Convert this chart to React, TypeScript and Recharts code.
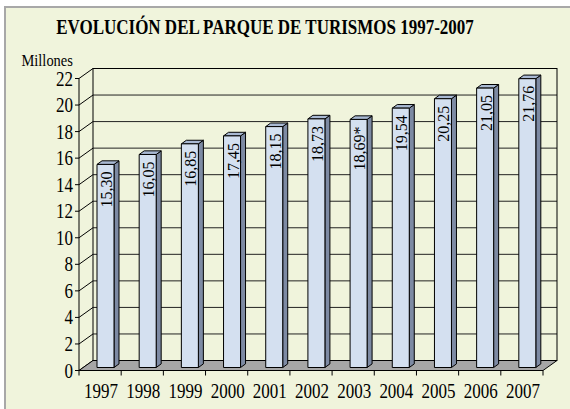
import { BarChart, Bar, XAxis, YAxis, CartesianGrid, ReferenceArea, LabelList } from 'recharts'

const categories = ['1997', '1998', '1999', '2000', '2001', '2002', '2003', '2004', '2005', '2006', '2007']
const values = [15.3, 16.05, 16.85, 17.45, 18.15, 18.73, 18.69, 19.54, 20.25, 21.05, 21.76]
const valueLabels = ['15,30', '16,05', '16,85', '17,45', '18,15', '18,73', '18,69*', '19,54', '20,25', '21,05', '21,76']
const yTicks = [0, 2, 4, 6, 8, 10, 12, 14, 16, 18, 20, 22]

const data = categories.map((year, i) => ({ year, value: values[i], label: valueLabels[i] }))

// 3d look: back wall offset, bar offset from front plane, bar depth
const WALL = { dx: 14, dy: -10 }
const BAR_OFF = { dx: 5, dy: -3 }
const BAR_DEPTH = { dx: 5, dy: -3.6 }

const FONT = '"Liberation Serif", "Times New Roman", serif'
const SQUEEZE = 0.85

function Box(props: any) {
  const { x, y, width, height } = props
  if (height <= 0) return null
  const fx = x + BAR_OFF.dx
  const fy = y + BAR_OFF.dy
  const bx = fy + height
  const r = fx + width
  return (
    <g stroke="#000" strokeWidth={1} strokeLinejoin="round">
      <polygon
        points={`${r},${fy} ${r + BAR_DEPTH.dx},${fy + BAR_DEPTH.dy} ${r + BAR_DEPTH.dx},${bx + BAR_DEPTH.dy} ${r},${bx}`}
        fill="#7d8aa3"
      />
      <polygon
        points={`${fx},${fy} ${fx + BAR_DEPTH.dx},${fy + BAR_DEPTH.dy} ${r + BAR_DEPTH.dx},${fy + BAR_DEPTH.dy} ${r},${fy}`}
        fill="#a9b9d3"
      />
      <rect x={fx} y={fy} width={width} height={height} fill="#d4e0f0" />
    </g>
  )
}

function Walls(props: any) {
  const { x, y, width, height } = props
  const bottom = y + height
  const right = x + width
  const n = categories.length
  const ticks = Array.from({ length: n + 1 }, (_, i) => x + (width * i) / n)
  return (
    <g>
      <polygon
        points={`${x},${bottom} ${x + WALL.dx},${bottom + WALL.dy} ${right + WALL.dx},${bottom + WALL.dy} ${right},${bottom}`}
        fill="#a6a6a6"
        stroke="#000"
      />
      <rect x={x + WALL.dx} y={y + WALL.dy} width={width} height={height} fill="none" stroke="#000" />
      {ticks.map((tx, i) => (
        <line key={i} x1={tx} y1={bottom} x2={tx} y2={bottom + 5} stroke="#000" />
      ))}
    </g>
  )
}

function GridLine(props: any) {
  const { x1, y1, x2, y2 } = props
  return (
    <g>
      <line x1={x1 + WALL.dx} y1={y1 + WALL.dy} x2={x2 + WALL.dx} y2={y2 + WALL.dy} stroke="#222" />
      <line x1={x1} y1={y1} x2={x1 + WALL.dx} y2={y1 + WALL.dy} stroke="#000" />
    </g>
  )
}

function XTick(props: any) {
  const { x, y, payload } = props
  return (
    <g transform={`translate(${x + 1},${y + 27}) scale(${SQUEEZE},1)`}>
      <text textAnchor="middle" fontFamily={FONT} fontSize={20} fill="#000">
        {payload.value}
      </text>
    </g>
  )
}

function YTick(props: any) {
  const { x, y, payload } = props
  return (
    <g transform={`translate(${x},${y + 7}) scale(${SQUEEZE},1)`}>
      <text textAnchor="end" fontFamily={FONT} fontSize={20} fill="#000">
        {payload.value}
      </text>
    </g>
  )
}

function BarLabel(props: any) {
  const { x, y, width, value } = props
  const cx = x + BAR_OFF.dx + width / 2 + 1
  const top = y + BAR_OFF.dy + 7
  return (
    <text
      x={cx}
      y={top}
      transform={`rotate(-90 ${cx} ${top})`}
      textAnchor="end"
      dominantBaseline="central"
      fontFamily={FONT}
      fontSize={16}
      fill="#000"
    >
      {value}
    </text>
  )
}

export default function App() {
  return (
    <div style={{ position: 'absolute', left: 0, top: 0, width: 570, height: 409, background: '#fff', overflow: 'hidden' }}>
      <div
        style={{
          position: 'absolute',
          left: 4,
          top: 6,
          width: 570,
          height: 409,
          background: '#f0f4dc',
          borderLeft: '2px solid #a8a8a8',
          borderTop: '2px solid #a8a8a8',
        }}
      />
      <svg width={570} height={409} style={{ position: 'absolute', left: 0, top: 0 }}>
        <g transform={`translate(265,34) scale(${SQUEEZE},1)`}>
          <text textAnchor="middle" fontFamily={FONT} fontWeight="bold" fontSize={20} fill="#000">
            EVOLUCIÓN DEL PARQUE DE TURISMOS 1997-2007
          </text>
        </g>
        <g transform={`translate(21.5,65.5) scale(${SQUEEZE},1)`}>
          <text fontFamily={FONT} fontSize={17} fill="#000">
            Millones
          </text>
        </g>
      </svg>
      <div style={{ position: 'absolute', left: 0, top: 0 }}>
        <BarChart
          width={570}
          height={409}
          data={data}
          margin={{ top: 78.5, right: 27, bottom: 8.5, left: 39 }}
          barSize={17}
        >
          <ReferenceArea y1={0} y2={22} shape={<Walls />} fill="none" stroke="none" ifOverflow="visible" />
          <CartesianGrid horizontal={(p: any) => <GridLine key={p.key} {...p} />} vertical={false} />
          <XAxis
            dataKey="year"
            height={30}
            tickLine={false}
            tickSize={0}
            tickMargin={0}
            tick={<XTick />}
            axisLine={{ stroke: '#000' }}
            interval={0}
          />
          <YAxis
            width={40}
            domain={[0, 22]}
            ticks={yTicks}
            tickSize={4}
            tickMargin={2}
            tick={<YTick />}
            tickLine={{ stroke: '#000' }}
            axisLine={{ stroke: '#000' }}
            interval={0}
          />
          <Bar dataKey="value" shape={<Box />} isAnimationActive={false}>
            <LabelList dataKey="label" content={<BarLabel />} />
          </Bar>
        </BarChart>
      </div>
    </div>
  )
}
